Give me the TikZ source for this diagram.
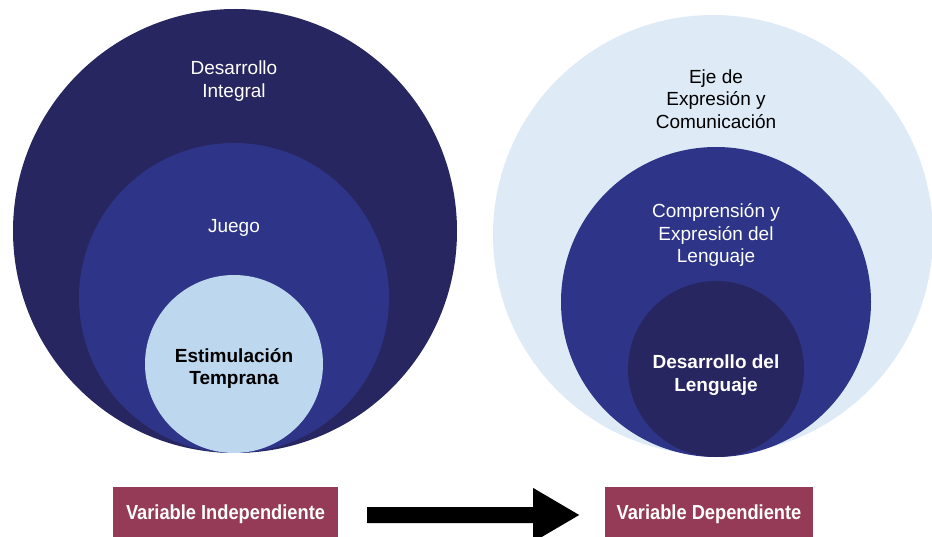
\documentclass[tikz,border=0pt]{standalone}
\usepackage{fontspec}
\setmainfont{Liberation Sans}
\newfontfamily\narrowbold[FakeStretch=0.9]{Liberation Sans}
\usetikzlibrary{calc}
\definecolor{navy}{RGB}{39,38,96}
\definecolor{midblue}{RGB}{46,53,137}
\definecolor{lightblue}{RGB}{189,215,238}
\definecolor{paleblue}{RGB}{222,235,247}
\definecolor{maroon}{RGB}{149,59,87}
\tikzset{
  disc/.style={circle, inner sep=0pt, draw=none},
  lab/.style={align=center, font=\fontsize{19}{22.5}\selectfont},
  vbox/.style={fill=maroon, text=white, inner sep=0pt, minimum height=54pt,
    font=\narrowbold\bfseries\fontsize{20.3}{22}\selectfont}
}
\begin{document}
\begin{tikzpicture}[x=1pt,y=-1pt]
\useasboundingbox (0,0) rectangle (932,537);
\clip (0,0) rectangle (932,537);
% left set
\node[disc, fill=navy, minimum size=444pt] (di) at (235,231) {};
\node[disc, fill=midblue, minimum size=310pt] (ju) at (234,298) {};
\node[disc, fill=lightblue, minimum size=178pt] (et) at (234,364) {};
\node[lab, text=white] (tdi) at (234,81) {Desarrollo\\Integral};
\node[lab, text=white] (tju) at (234,228) {Juego};
\node[lab, font=\bfseries\fontsize{19}{22}\selectfont] (tet) at (234,369) {Estimulación\\Temprana};
% right set
\node[disc, fill=paleblue, minimum size=440pt] (ee) at (713,235) {};
\node[disc, fill=midblue, minimum size=310pt] (ce) at (716,302) {};
\node[disc, fill=navy, minimum size=176pt] (dl) at (716,369) {};
\node[lab, text=black] (tee) at (716,99) {Eje de\\Expresión y\\Comunicación};
\node[lab, text=white] (tce) at (716,235) {Comprensión y\\Expresión del\\Lenguaje};
\node[lab, text=white, font=\bfseries\fontsize{19}{23}\selectfont] (tdl) at (716,375) {Desarrollo del\\Lenguaje};
% bottom
\node[vbox, minimum width=225pt] (vi) at (225.5,514) {Variable Independiente};
\node[vbox, minimum width=208pt] (vd) at (709,514) {Variable Dependiente};
\coordinate (a0) at ($(vi.east)+(29,1)$);
\fill[black] (a0) ++(0,-8) -- ++(166,0) -- ++(0,-19) -- ++(46,27) -- ++(-46,27) -- ++(0,-19) -- ++(-166,0) -- cycle;
\end{tikzpicture}
\end{document}
